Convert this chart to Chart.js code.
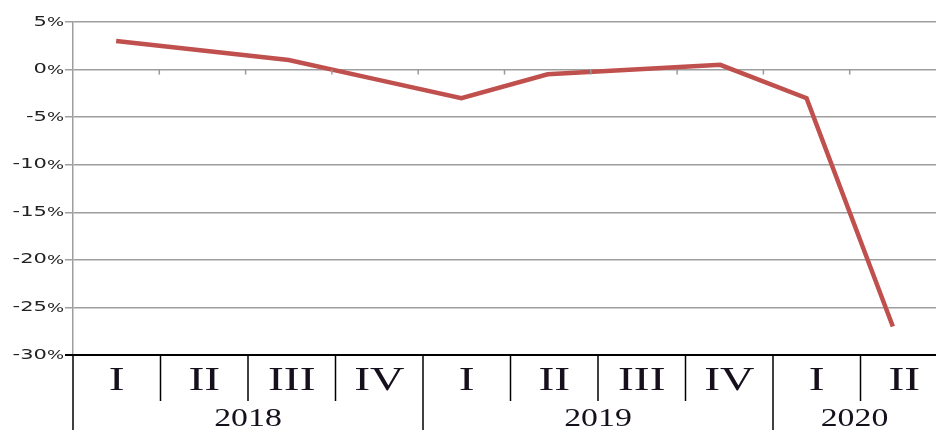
<!DOCTYPE html>
<html>
<head>
<meta charset="utf-8">
<script src="https://cdn.jsdelivr.net/npm/chart.js@4/dist/chart.umd.min.js"></script>
<style>
  body { margin: 0; background: #fff; }
  canvas { display: block; }
</style>
</head>
<body>
<canvas id="chart" width="936" height="430"></canvas>
<script>
// quarters (roman) and years for the table under the chart
const quarters = ["I", "II", "III", "IV", "I", "II", "III", "IV", "I", "II"]
const years = ["2018", "2019", "2020"]
const quartersPerYear = [4, 4, 2]
// growth, %
const growth = [3, 2, 1, -1, -3, -0.5, 0, 0.5, -3, -27]
const yTicks = [5, 0, -5, -10, -15, -20, -25, -30]

// the original picture is a bit stretched sideways, so the text is too
function wideText(ctx, txt, x, y, sx) {
  ctx.save()
  ctx.translate(x, y)
  ctx.scale(sx, 1)
  ctx.fillText(txt, 0, 0)
  ctx.restore()
}

// y labels + table under the plot (cells, dividers, labels)
const tablePlugin = {
  id: 'tablePlugin',
  afterDraw(chart) {
    const ctx = chart.ctx
    const area = chart.chartArea
    const tbl = chart.scales.tbl
    const x = chart.scales.x
    const y = chart.scales.y
    const top = area.bottom
    ctx.save()

    // y labels, the % sign a bit smaller
    ctx.fillStyle = '#222'
    ctx.textAlign = 'right'
    ctx.textBaseline = 'middle'
    const sx = 1.5
    const right = area.left - 9
    y.ticks.forEach(t => {
      const py = y.getPixelForValue(t.value)
      ctx.font = '12px "DejaVu Sans"'
      const pw = ctx.measureText('%').width * sx
      wideText(ctx, '%', right, py + 1, sx)
      ctx.font = '14px "DejaVu Sans"'
      wideText(ctx, String(t.value), right - pw, py, sx)
    })

    // little ticks under the 0% line
    const y0 = y.getPixelForValue(0)
    const half = (x.getPixelForValue(1) - x.getPixelForValue(0)) / 2
    ctx.strokeStyle = '#999'
    ctx.lineWidth = 1.5
    for (let i = 1; i < quarters.length; i++) {
      const px = x.getPixelForValue(i) - half
      ctx.beginPath()
      ctx.moveTo(px, y0)
      ctx.lineTo(px, y0 + 5)
      ctx.stroke()
    }

    // table top line
    ctx.strokeStyle = '#000'
    ctx.lineWidth = 2
    ctx.beginPath()
    ctx.moveTo(area.left - 8, top)
    ctx.lineTo(chart.width, top)
    ctx.stroke()

    // left border
    ctx.lineWidth = 1.5
    ctx.beginPath()
    ctx.moveTo(tbl.getPixelForValue(0), top)
    ctx.lineTo(tbl.getPixelForValue(0), chart.height)
    ctx.stroke()

    // dividers
    let yearEnds = []
    let acc = 0
    quartersPerYear.forEach(n => { acc += n; yearEnds.push(acc) })
    for (let i = 1; i < quarters.length; i++) {
      const px = tbl.getPixelForValue(i)
      const full = yearEnds.includes(i)
      ctx.beginPath()
      ctx.moveTo(px, top)
      ctx.lineTo(px, full ? chart.height : top + 46)
      ctx.stroke()
    }

    // quarter labels
    ctx.fillStyle = '#15101c'
    ctx.textAlign = 'center'
    ctx.textBaseline = 'alphabetic'
    ctx.font = '34px "Liberation Serif"'
    quarters.forEach((q, i) => {
      wideText(ctx, q, tbl.getPixelForValue(i + 0.5), top + 35, 1.4)
    })

    // year labels
    ctx.font = '26px "Liberation Serif"'
    let start = 0
    years.forEach((yr, i) => {
      const end = Math.min(start + quartersPerYear[i], tbl.max)
      const l = tbl.getPixelForValue(start)
      const r = i === years.length - 1 ? chart.width : tbl.getPixelForValue(end)
      wideText(ctx, yr, (l + r) / 2, chart.height - 4, 1.3)
      start += quartersPerYear[i]
    })
    ctx.restore()
  }
}

const ctx = document.getElementById('chart').getContext('2d')
new Chart(ctx, {
  type: 'line',
  data: {
    labels: quarters.map((q, i) => i),
    datasets: [{
      data: growth,
      borderColor: '#c0504d',
      borderWidth: 4.5,
      pointRadius: 0,
      tension: 0,
      fill: false
    }]
  },
  options: {
    responsive: false,
    animation: false,
    layout: { padding: { top: 22, right: 0, left: 0, bottom: 0 } },
    plugins: { legend: { display: false }, tooltip: { enabled: false } },
    scales: {
      x: {
        type: 'category',
        offset: true,
        grid: { display: false },
        border: { display: false },
        ticks: { display: false },
        afterFit: s => { s.height = 75 }
      },
      tbl: {
        type: 'linear',
        axis: 'x',
        display: false,
        min: 0,
        max: 863 / 87.5
      },
      y: {
        min: -30,
        max: 5,
        afterBuildTicks: s => { s.ticks = yTicks.map(v => ({ value: v })) },
        afterFit: s => { s.width = 73 },
        grid: {
          color: c => (c.tick && c.tick.value === -30) ? 'rgba(0,0,0,0)' : '#9e9e9e',
          lineWidth: 1.5,
          tickLength: 8
        },
        border: { color: '#9e9e9e', width: 1.5 },
        ticks: { display: false }
      }
    }
  },
  plugins: [tablePlugin]
})
</script>
</body>
</html>
